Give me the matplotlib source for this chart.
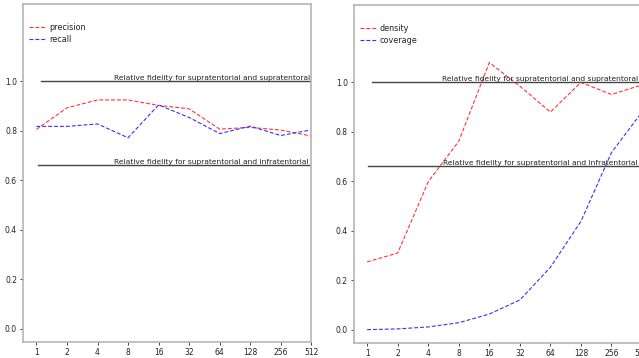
import matplotlib
matplotlib.use("Agg")
import matplotlib.pyplot as plt

x_labels = ["1", "2", "4", "8", "16", "32", "64", "128", "256", "512"]
precision = [0.806, 0.893, 0.925, 0.925, 0.903, 0.889, 0.807, 0.814, 0.803, 0.779]
recall = [0.818, 0.818, 0.828, 0.772, 0.905, 0.854, 0.789, 0.819, 0.781, 0.804]
density = [0.274, 0.31, 0.598, 0.762, 1.08, 0.985, 0.88, 1.0, 0.951, 0.99]
coverage = [0.0, 0.003, 0.011, 0.028, 0.063, 0.12, 0.252, 0.438, 0.716, 0.88]
ref_high = 1.0
ref_low = 0.66
label_high = "Relative fidelity for supratentorial and supratentoral"
label_low = "Relative fidelity for supratentorial and infratentorial"

W, H = 639, 358
fig = plt.figure(figsize=(W / 100, H / 100), dpi=100)
plt.rcParams['font.family'] = ['DejaVu Sans']
fs = 5.5
fs_ann = 5.4
txt_color = '#222222'

ax1 = fig.add_axes([23.3 / W, 1 - 342 / H, 288 / W, 338 / H])
ax2 = fig.add_axes([354 / W, 1 - 343 / H, 288 / W, 338 / H])

xs = list(range(len(x_labels)))

def style(ax, s1, s2, n1, n2, c_high_start, c_low_start, txt_x):
    ax.plot(xs, s1, color='#ff3333', ls=(0, (3.5, 1.8)), lw=0.8, label=n1)
    ax.plot(xs, s2, color='#3333ff', ls=(0, (3.5, 1.8)), lw=0.8, label=n2)
    ax.axhline(ref_high, xmin=c_high_start, xmax=1, color='#444444', lw=1.0)
    ax.axhline(ref_low, xmin=c_low_start, xmax=1, color='#444444', lw=1.0)
    ax.text(txt_x, ref_high + 0.001, label_high, transform=ax.get_yaxis_transform(),
            ha='right', va='bottom', fontsize=fs_ann, color=txt_color)
    ax.text(txt_x - 0.005, ref_low + 0.001, label_low, transform=ax.get_yaxis_transform(),
            ha='right', va='bottom', fontsize=fs_ann, color=txt_color)
    ax.set_xlim(-0.43, 9.0)
    ax.set_ylim(-0.054, 1.313)
    ax.set_xticks(xs)
    ax.set_xticklabels(x_labels)
    ax.set_yticks([0.0, 0.2, 0.4, 0.6, 0.8, 1.0])
    ax.tick_params(axis='both', direction='out', length=2.5, width=0.6,
                   labelsize=fs, colors=txt_color, pad=2,
                   top=False, right=False)
    for sp in ax.spines.values():
        sp.set_color('#b5b5b5')
        sp.set_linewidth(1.2)
    leg = ax.legend(loc='upper left', bbox_to_anchor=(0.0, 0.96), frameon=False,
                    fontsize=fs + 0.3, handlelength=2.0, handletextpad=0.5,
                    labelspacing=0.35, borderaxespad=0.3)
    for t in leg.get_texts():
        t.set_color(txt_color)

style(ax1, precision, recall, "precision", "recall", 0.062, 0.05, 0.995)
style(ax2, density, coverage, "density", "coverage", 0.061, 0.05, 0.988)

fig.savefig("out.png", dpi=100)
